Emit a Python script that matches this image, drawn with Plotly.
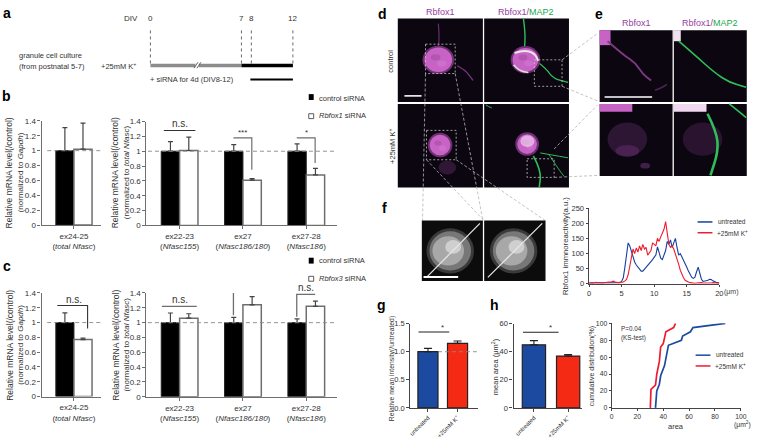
import plotly.graph_objects as go

W, H = 760, 441
FONT = "Liberation Sans"
GREY = "#6e6e6e"
DARK = "#333333"
BLUE_BAR, RED_BAR = "#1b4aa0", "#f42a14"
BLUE_LINE, RED_LINE = "#163f9e", "#ee1c2e"

# --- panel b / c data
b_left_ctrl, b_left_ctrl_err = [1.0], [0.31]
b_left_kd, b_left_kd_err = [1.02], [0.35]
b_right_ctrl, b_right_ctrl_err = [1.0, 1.0, 1.0], [0.13, 0.09, 0.10]
b_right_kd, b_right_kd_err = [1.01, 0.61, 0.68], [0.18, 0.02, 0.09]
c_left_ctrl, c_left_ctrl_err = [1.0], [0.13]
c_left_kd, c_left_kd_err = [0.77], [0.02]
c_right_ctrl, c_right_ctrl_err = [1.0, 1.0, 1.0], [0.13, 0.07, 0.05]
c_right_kd, c_right_kd_err = [1.06, 1.24, 1.22], [0.06, 0.11, 0.07]
mrna_ticks = [0, 0.2, 0.4, 0.6, 0.8, 1, 1.2, 1.4]
left_labels = ["ex24-25<br>(<i>total Nfasc</i>)"]
right_labels = ["ex22-23<br>(<i>Nfasc155</i>)", "ex27<br>(<i>Nfasc186/180</i>)", "ex27-28<br>(<i>Nfasc186</i>)"]

# --- panel f data
profile_x = [i * 0.25 for i in range(81)]
profile_untreated = [3, 3, 2, 3, 2, 3, 4, 3, 2, 3, 2, 3, 3, 2, 3, 2, 2, 3, 3, 4, 8, 20, 55, 105, 135, 125, 105, 85, 72, 62,
                     55, 48, 42, 42, 48, 56, 62, 68, 75, 80, 88, 95, 122, 100, 85, 80, 95, 110, 140, 130, 145, 120, 135,
                     150, 120, 95, 100, 90, 80, 65, 55, 42, 30, 22, 18, 22, 40, 55, 35, 15, 8, 9, 10, 12, 15, 14, 10, 7,
                     5, 4, 3]
profile_k = [3, 4, 4, 3, 5, 4, 5, 4, 3, 4, 5, 4, 6, 5, 7, 9, 6, 4, 4, 5, 5, 6, 10, 15, 30, 55, 85, 115, 100, 118, 105,
             125, 110, 130, 115, 120, 95, 105, 110, 135, 130, 125, 150, 140, 155, 165, 180, 205, 160, 130, 120, 125,
             115, 100, 80, 65, 45, 30, 20, 12, 8, 6, 4, 3, 3, 2, 3, 4, 5, 4, 3, 2, 3, 3, 2, 3, 4, 3, 2, 2, 2]

# --- panel g / h data
treatments = ["untreated", "+25mM K<sup>+</sup>"]
g_mean, g_err = [1.0, 1.15], [0.06, 0.04]
h_mean, h_err = [45, 37], [3, 1]

# --- cumulative distribution
cum_un_x = [34, 35, 37, 38, 41, 42, 44, 54, 55, 61, 63, 88]
cum_un_y = [0, 20, 28, 38, 50, 60, 74, 80, 85, 90, 95, 100]
cum_k_x = [30, 30.5, 34, 35, 37, 38, 40, 42, 48, 49.5]
cum_k_y = [0, 22, 27, 40, 55, 72, 76, 90, 95, 100]

fig = go.Figure()
shapes, annos = [], []
axis_n = [0]


def px(x):
    return x / W


def py(y):
    return 1 - y / H


def text(x, y, s, size=8, color=DARK, anchor="center", angle=0, family=FONT):
    annos.append(dict(x=px(x), y=py(y), xref="paper", yref="paper", text=s, showarrow=False, xanchor=anchor,
                      yanchor="middle", textangle=angle, borderpad=0, borderwidth=0, align="center" if anchor == "center" else "left",
                      font=dict(size=size, color=color, family=family)))


def line(x0, y0, x1, y1, color=DARK, width=1.0, dash="solid"):
    shapes.append(dict(type="line", xref="paper", yref="paper", x0=px(x0), y0=py(y0), x1=px(x1), y1=py(y1),
                       line=dict(color=color, width=width, dash=dash)))


def rect(x0, y0, x1, y1, fill, lc=None, lw=1.0, dash="solid", opacity=1):
    shapes.append(dict(type="rect", xref="paper", yref="paper", x0=px(x0), y0=py(y0), x1=px(x1), y1=py(y1),
                       fillcolor=fill, opacity=opacity,
                       line=dict(color=lc or "rgba(0,0,0,0)", width=lw if lc else 0, dash=dash)))


def ell(cx, cy, rx, ry, fill, opacity=1):
    shapes.append(dict(type="circle", xref="paper", yref="paper", x0=px(cx - rx), x1=px(cx + rx), y0=py(cy - ry),
                       y1=py(cy + ry), fillcolor=fill, opacity=opacity, line=dict(width=0)))


def curve(pts, color, width=1.5, opacity=1):
    d = f"M{px(pts[0][0]):.5f},{py(pts[0][1]):.5f}"
    for i in range(1, len(pts) - 1):
        mx = (pts[i][0] + pts[i + 1][0]) / 2
        my = (pts[i][1] + pts[i + 1][1]) / 2
        d += f" Q{px(pts[i][0]):.5f},{py(pts[i][1]):.5f} {px(mx):.5f},{py(my):.5f}"
    d += f" L{px(pts[-1][0]):.5f},{py(pts[-1][1]):.5f}"
    shapes.append(dict(type="path", xref="paper", yref="paper", path=d, opacity=opacity,
                       line=dict(color=color, width=width)))


def axes(x0, x1, y0, y1, xr, yr, xticks=None, xlabels=None, yticks=None, ylabels=None, tick=8, xangle=0, xtick=8,
         xlen=3, ylen=3, lw=1.2, color=GREY):
    axis_n[0] += 1
    n = axis_n[0]
    common = dict(showgrid=False, zeroline=False, showline=True, linecolor=color, linewidth=lw, ticks="outside",
                  tickcolor=color, tickwidth=lw)
    fig.layout[f"xaxis{n}"] = dict(domain=[px(x0), px(x1)], range=xr, anchor=f"y{n}", tickmode="array", tickvals=xticks,
                                   ticktext=xlabels, tickangle=xangle, ticklen=xlen,
                                   tickfont=dict(size=xtick, color=DARK, family=FONT), **common)
    fig.layout[f"yaxis{n}"] = dict(domain=[py(y0), py(y1)], range=yr, anchor=f"x{n}", tickmode="array", tickvals=yticks,
                                   ticktext=ylabels, ticklen=ylen, tickfont=dict(size=tick, color=DARK, family=FONT),
                                   **common)
    return f"x{n}", f"y{n}"


def trace(t, ax):
    t.update(xaxis=ax[0], yaxis=ax[1], showlegend=False)
    fig.add_trace(t)


def err(vals):
    return dict(type="data", array=vals, arrayminus=[0] * len(vals), color="#444444", thickness=1.2, width=2.5)


def grouped(ax, n, ctrl, ce, kd, ke, hw):
    xs = list(range(n))
    trace(go.Bar(x=[v - hw / 2 for v in xs], y=ctrl, width=hw, marker=dict(color="black", line=dict(color="#222222", width=1)), error_y=err(ce)), ax)
    trace(go.Bar(x=[v + hw / 2 for v in xs], y=kd, width=hw, marker=dict(color="white", line=dict(color=GREY, width=1.5)), error_y=err(ke)), ax)


def bracket(ax, xs, ys, color=DARK, width=1.1):
    trace(go.Scatter(x=xs, y=ys, mode="lines", line=dict(color=color, width=width), hoverinfo="skip", cliponaxis=False), ax)


def dash_one(ax, x0, x1):
    trace(go.Scatter(x=[x0, x1], y=[1, 1], mode="lines", line=dict(color="#888888", width=0.9, dash="4px,3px"), hoverinfo="skip"), ax)


def data_label(ax, x, y, s, size=10):
    annos.append(dict(x=x, y=y, xref=ax[0], yref=ax[1], text=s, showarrow=False, yanchor="bottom", yshift=-1,
                      font=dict(size=size, color=DARK, family=FONT)))


mtxt = [str(v) for v in mrna_ticks]

# ---- panels b, c
lr = [-32.7 / 60, 27.3 / 60]
rr = [-33.5 / 64, 159.5 / 64]
HW = 0.29

bl = axes(40, 100, 225.7, 119.3, lr, [0, 1.4], [0], left_labels, mrna_ticks, mtxt)
grouped(bl, 1, b_left_ctrl, b_left_ctrl_err, b_left_kd, b_left_kd_err, 0.305)
dash_one(bl, -0.45, 0.45)
bracket(bl, [-0.25, 0.25], [1.44, 1.44])
data_label(bl, 0, 1.44, "n.s.")

br = axes(146, 339, 226, 120, rr, [0, 1.4], [0, 1, 2], right_labels, mrna_ticks, mtxt)
grouped(br, 3, b_right_ctrl, b_right_ctrl_err, b_right_kd, b_right_kd_err, HW)
dash_one(br, -0.5, 2.45)
bracket(br, [-0.25, 0.25], [1.28, 1.28])
data_label(br, 0, 1.28, "n.s.")
bracket(br, [0.85, 1.14, 1.14], [1.18, 1.18, 0.75], GREY, 1.2)
data_label(br, 1, 1.18, "***", 8)
bracket(br, [1.85, 2.14, 2.14], [1.18, 1.18, 0.84], GREY, 1.2)
data_label(br, 2, 1.18, "*", 8)

cl = axes(40, 100, 400.7, 295, lr, [0, 1.4], [0], left_labels, mrna_ticks, mtxt)
grouped(cl, 1, c_left_ctrl, c_left_ctrl_err, c_left_kd, c_left_kd_err, 0.305)
dash_one(cl, -0.45, 0.45)
bracket(cl, [-0.28, 0.23, 0.23], [1.23, 1.23, 0.92])
data_label(cl, 0, 1.23, "n.s.")

cr = axes(146, 339, 401, 295, rr, [0, 1.4], [0, 1, 2], right_labels, mrna_ticks, mtxt)
grouped(cr, 3, c_right_ctrl, c_right_ctrl_err, c_right_kd, c_right_kd_err, HW)
dash_one(cr, -0.5, 2.45)
bracket(cr, [-0.28, 0.27], [1.22, 1.22], GREY, 1.3)
data_label(cr, 0, 1.22, "n.s.")
bracket(cr, [0.85, 0.85, 1.14], [1.1, 1.43, 1.43], GREY, 1.3)
data_label(cr, 1, 1.43, "n.s.")
bracket(cr, [1.85, 1.85, 2.14], [1.08, 1.38, 1.38], GREY, 1.3)
data_label(cr, 2, 1.38, "n.s.")

for y, t2 in [(172, "<i>Gapdh</i>"), (348, "<i>Gapdh</i>")]:
    text(8, y, "Relative mRNA level(/control)", 8.5, angle=-90)
    text(19, y, f"(normalized to {t2})", 8, angle=-90)
for y in (172, 348):
    text(115, y, "Relative mRNA level(/control)", 8.5, angle=-90)
    text(126, y, "(normalized to <i>total Nfasc</i>)", 8, angle=-90)

# legends b, c
rect(310, 92, 315, 98, "black")
text(320, 96, "control siRNA", 7.5, anchor="left")
rect(310, 112, 315, 117, "white", "#333333", 0.8)
text(320, 114, "<i>Rbfox1</i> siRNA", 7.5, anchor="left")
rect(310, 259, 315, 265, "black")
text(320, 262, "control siRNA", 7.5, anchor="left")
rect(310, 278, 315, 283, "white", "#333333", 0.8)
text(320, 280, "<i>Rbfox3</i> siRNA", 7.5, anchor="left")

# ---- panel a schematic
text(130, 15, "DIV", 8)
for x, s in [(150, "0"), (242, "7"), (252, "8"), (294, "12")]:
    text(x, 15, s, 8)
    line(x, 27, x, 61, "#444444", 0.8, "dot")
rect(150, 61, 242, 64.5, "#8c8c8c")
rect(242, 61, 294, 64.5, "black")
rect(195.5, 60.5, 199, 65, "white")
line(194, 65.5, 198, 59.5, "#555555", 0.9)
line(197, 65.5, 201, 59.5, "#555555", 0.9)
text(17, 53, "granule cell culture", 7.5, anchor="left")
text(17, 63.5, "(from postnatal 5-7)", 7.5, anchor="left")
text(100, 63.5, "+25mM K<sup>+</sup>", 7.5, anchor="left")
text(150, 77, "+ siRNA for 4d (DIV8-12)", 7.5, anchor="left")
rect(251, 76, 294, 78, "black")

# ---- bold labels
for x, y, s in [(5, 9, "a"), (5, 94, "b"), (5, 267, "c"), (385, 10, "d"), (603, 10, "e"), (387, 208, "f"),
                (384, 307, "g"), (497.5, 307, "h")]:
    text(x, y, f"<b>{s}</b>", 14, "black", family="Liberation Sans")

# ---- micrographs
BG = "#0b0610"
PURP = "#a040a8"
MAG = "#c763c4"
GRN = "#2fbf5a"
TILES = [(400, 486, 14.7, 100), (487.3, 573, 14.7, 100), (400, 486, 102, 187.3), (487.3, 573, 102, 187.3),
         (604, 677.7, 26.7, 100), (679, 752.7, 26.7, 100), (604, 677.7, 102, 175.7), (679, 752.7, 102, 175.7)]
for t in TILES:
    rect(t[0], t[2], t[1], t[3], BG)


def cell(cx, cy, rx, ry):
    ell(cx, cy, rx + 2, ry + 2, "#6f2f73")
    ell(cx, cy, rx, ry, MAG)
    ell(cx - rx * 0.2, cy - ry * 0.2, rx * 0.35, ry * 0.25, "#a64ca6", 0.6)
    ell(cx + rx * 0.25, cy + ry * 0.3, rx * 0.35, ry * 0.25, "#d478d4", 0.6)


# d1
curve([(441, 20), (442, 32), (441, 45)], "#6a2d70", 1.2)
curve([(460, 63), (468, 67), (476, 78)], "#7a3580", 1.3)
cell(441, 57, 14, 12.5)
# d2
curve([(527, 15), (529, 30), (528, 46)], GRN, 1.4)
curve([(541, 59), (550, 66), (557, 76), (572, 80)], GRN, 1.2)
cell(529, 57, 13, 12)
curve([(518, 50), (527, 47), (538, 50), (542, 58)], "#e8e8e8", 2)
curve([(517, 62), (522, 68), (532, 70)], "#dcdcdc", 1.6)
# d3
cell(442.7, 144, 10.5, 10.5)
ell(450, 167, 9, 7, "#351a3b", 0.9)
# d4
curve([(489, 103), (492, 105), (495, 106)], GRN, 1)
curve([(537, 155), (545, 170), (543, 187)], GRN, 1.6)
curve([(544, 152), (555, 154), (572, 157)], GRN, 1)
curve([(553, 154), (560, 165), (568, 176)], GRN, 0.9)
cell(530.7, 143, 10, 10)
ell(531, 140, 7, 6, "#f0d0f0", 0.7)
# e1
rect(604, 26.7, 615, 42, MAG)
curve([(612, 38), (628, 52), (640, 60), (648, 72), (656, 78)], "#7f3a86", 1.8)
curve([(660, 88), (666, 86), (672, 82)], "#4e2356", 1.6)
rect(609, 94.2, 657, 95.6, "white")
# e2
rect(679, 26.7, 686, 38, "#f0e0f0")
curve([(684, 38), (700, 52), (720, 70), (735, 80), (752, 85)], GRN, 1.6)
# e3
ell(632, 138, 20, 17, "#311738", 0.9)
ell(632, 150, 12, 6, "#4c2455", 0.9)
ell(650, 165, 5, 3, "#4c2455", 0.8)
rect(604, 102, 637, 110, MAG)
# e4
ell(708, 138, 20, 17, "#2c1533", 0.9)
rect(679, 102, 712, 110, "#f0d8f0")
curve([(713, 112), (722, 130), (724, 150), (716, 175)], GRN, 2.6)
curve([(735, 102), (745, 110), (752, 116)], GRN, 1.6)

DB = "#c8c8c8"
for b in [(428, 458, 41, 71), (538, 566, 57, 84), (429, 459, 129, 159), (530.7, 558, 158, 177)]:
    rect(b[0], b[2], b[1], b[3], "rgba(0,0,0,0)", DB, 0.8, "2px,2px")
for a in [(428, 71, 425, 221), (458, 71, 486, 221), (429, 159, 487, 221), (459, 159, 549, 221), (566, 57, 602, 30),
          (566, 84, 602, 99), (558, 148, 602, 103), (558, 177, 602, 175)]:
    line(*a, color="#b5b5b5", width=0.8, dash="3px,2px")
rect(406.7, 93, 424, 94.6, "white")

text(443, 8, "Rbfox1", 9, "#9440a0")
text(530, 8, "Rbfox1/<span style='color:#20a850'>MAP2</span>", 9, "#9440a0")
text(641, 19, "Rbfox1", 9, "#9440a0")
text(716, 19, "Rbfox1/<span style='color:#20a850'>MAP2</span>", 9, "#9440a0")
text(393, 58, "control", 7.5, angle=-90)
text(394, 145, "+25mM K<sup>+</sup>", 7.5, angle=-90)

# f images
for (x0, x1, cx, r) in [(424.3, 486, 453, 22), (487.3, 549.3, 517, 22)]:
    rect(x0, 221, x1, 282.7, "#0c0c0c")
    ell(cx, 252, r + 2, r + 1, "#3a3a3a")
    ell(cx, 252, r - 1, r - 2, "#777777")
    ell(cx - 2, 252, r - 6, r - 7, "#a8a8a8")
    ell(cx + 3, 248, r - 14, r - 15, "#cfcfcf")
line(429, 279, 483, 224, "#e8e8e8", 1.2)
line(491, 279, 546, 224, "#e8e8e8", 1.2)
rect(426, 277.7, 461, 279.6, "white")

# ---- profile plot
fx = axes(593.3, 725, 285.7, 208.3, [0, 20], [0, 250], [0, 5, 10, 15, 20], ["0", "5", "10", "15", "20"],
          [0, 50, 100, 150, 200, 250], ["0", "50", "100", "150", "200", "250"], tick=7.5, xtick=7.5, lw=1, color="#444444", xlen=2.5, ylen=2.5)
trace(go.Scatter(x=profile_x, y=profile_untreated, mode="lines", line=dict(color=BLUE_LINE, width=1.1)), fx)
trace(go.Scatter(x=profile_x, y=profile_k, mode="lines", line=dict(color=RED_LINE, width=1.1)), fx)
text(570, 247, "Rbfox1 immnoreactivity(a.u.)", 7.7, angle=-90)
text(737, 294, "(μm)", 7, "#444444")
line(703, 222.5, 718, 222.5, BLUE_LINE, 1.5)
line(703, 233.5, 718, 233.5, RED_LINE, 1.5)
text(724, 222.5, "untreated", 6.5, anchor="left")
text(723, 233.5, "+25mM K<sup>+</sup>", 6.5, anchor="left")

# ---- panel g
BAR_L = dict(color="#222222", width=1.2)
gax = axes(412.7, 481, 412.3, 326.3, [-0.595, 1.69], [0, 1.5], [0, 1], treatments, [0, 0.5, 1.0, 1.5], ["0.0", "0.5", "1.0", "1.5"],
           tick=7.5, xangle=-45, xtick=6, lw=1.2, color="#444444")
trace(go.Bar(x=[0, 1], y=g_mean, width=0.68, marker=dict(color=[BLUE_BAR, RED_BAR], line=BAR_L),
             error_y=dict(type="data", array=g_err, arrayminus=[0, 0], color="#222222", thickness=1.1, width=4)), gax)
dash_one(gax, 0.34, 1.65)
bracket(gax, [-0.32, 0.72], [1.35, 1.35], "#222222", 1.1)
data_label(gax, 0.48, 1.34, "*", 8)
text(395, 372, "Relative mean intensity(/untreated)", 6.8, angle=-90)

# ---- panel h
hax = axes(517, 586, 412.3, 326.5, [-0.595, 1.4], [0, 60], [0, 1], treatments, [0, 20, 40, 60], ["0", "20", "40", "60"],
           tick=7.5, xangle=-45, xtick=6, lw=1.2, color="#444444")
trace(go.Bar(x=[0, 1], y=h_mean, width=0.68, marker=dict(color=[BLUE_BAR, RED_BAR], line=BAR_L),
             error_y=dict(type="data", array=h_err, arrayminus=[0, 0], color="#222222", thickness=1.1, width=4)), hax)
bracket(hax, [-0.32, 0.72], [54, 54], "#222222", 1.1)
data_label(hax, 0.48, 53.5, "*", 8)
text(499, 370, "mean area (μm<sup>2</sup>)", 7.5, angle=-90)

# ---- cumulative
cax = axes(616, 746.7, 412.3, 326, [0, 100], [0, 100], [0, 20, 40, 60, 80, 100], ["0", "20", "40", "60", "80", "100"],
           [0, 20, 40, 60, 80, 100], ["0", "20", "40", "60", "80", "100"], tick=6.8, xtick=6.8, lw=0.9, color="#444444", xlen=2, ylen=2)
trace(go.Scatter(x=cum_un_x, y=cum_un_y, mode="lines", line=dict(color=BLUE_BAR, width=1.7)), cax)
trace(go.Scatter(x=cum_k_x, y=cum_k_y, mode="lines", line=dict(color=RED_LINE, width=1.7)), cax)
text(597, 370, "cumulative distribution(%)", 7, angle=-90)
text(626, 331, "P=0.04", 6.3, anchor="left")
text(626, 341, "(KS-test)", 6.3, anchor="left")
line(701, 358.5, 716, 358.5, BLUE_BAR, 1.5)
line(701, 369.5, 716, 369.5, RED_LINE, 1.5)
text(722, 358, "untreated", 6.5, anchor="left")
text(721, 369.5, "+25mM K<sup>+</sup>", 6.5, anchor="left")
text(681.5, 431, "area", 7.5)
text(748, 429, "(μm<sup>2</sup>)", 6.8)

fig.update_layout(width=W, height=H, margin=dict(l=0, r=0, t=0, b=0), paper_bgcolor="white", plot_bgcolor="rgba(0,0,0,0)",
                  barmode="overlay", shapes=shapes, annotations=annos, showlegend=False, font=dict(family=FONT))
fig.write_html("out.html", config={"displayModeBar": False},
               post_script="document.body.style.margin='0';")
